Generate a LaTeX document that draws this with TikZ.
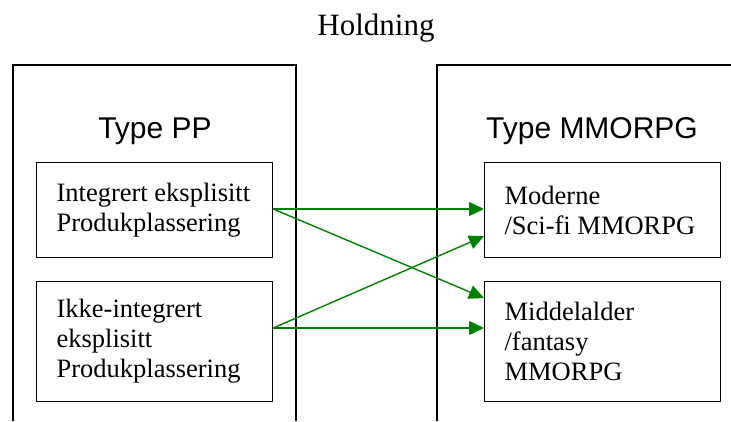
\documentclass[tikz,border=0pt]{standalone}
\usepackage{fontspec}
\setmainfont{Liberation Serif}
\setsansfont{Liberation Sans}
\usetikzlibrary{arrows.meta,calc}
\definecolor{linkgreen}{RGB}{0,128,0}
\tikzset{
  itembox/.style={draw=black, line width=1.2pt, align=flush left, inner xsep=20pt, inner ysep=0pt,
    text width=196pt, font=\fontsize{26.5}{30}\selectfont},
  frame/.style={draw=black, line width=1.2pt},
  heading/.style={font=\sffamily\fontsize{30}{34}\selectfont, anchor=base, inner sep=0pt},
  link/.style={draw=linkgreen, line width=1.4pt, -{Triangle[length=15pt,width=14pt]}}
}
\begin{document}
\begin{tikzpicture}[x=1pt, y=-1pt]
\useasboundingbox (0,0) rectangle (731,421);
% title
\node[font=\fontsize{31}{36}\selectfont, anchor=base, inner sep=0pt] (title) at (376,35) {Holdning};
% the two open-bottomed frames
\draw[frame] (13,421) |- (296,65) -- (296,421);
\draw[frame] (437,421) |- (731,65);
\node[heading] (pp) at (155,138) {Type PP};
\node[heading] (mmo) at (592,138) {Type MMORPG};
% left column
\node[itembox, minimum height=95pt, anchor=north west] (ie) at (36,162)
  {Integrert eksplisitt\\Produkplassering};
\node[itembox, minimum height=120pt, anchor=north west] (ik) at (36,281)
  {Ikke-integrert\\eksplisitt\\Produkplassering};
% right column
\node[itembox, minimum height=95pt, anchor=north west] (mod) at (484,162)
  {Moderne\\/Sci-fi MMORPG};
\node[itembox, minimum height=120pt, anchor=north west] (mid) at (484,281)
  {Middelalder\\/fantasy\\MMORPG};
% connectors
\coordinate (ieout) at ($(ie.north east)+(0,47)$);
\coordinate (ikout) at ($(ik.north east)+(0,47)$);
\coordinate (modin1) at ($(mod.north west)+(0,47)$);
\coordinate (modin2) at ($(mod.south west)+(0,-22)$);
\coordinate (midin1) at ($(mid.north west)+(0,17)$);
\coordinate (midin2) at ($(mid.north west)+(0,47)$);
\draw[link] (ieout) -- (modin1);
\draw[link] (ieout) -- (midin1);
\draw[link] (ikout) -- (modin2);
\draw[link] (ikout) -- (midin2);
\end{tikzpicture}
\end{document}
